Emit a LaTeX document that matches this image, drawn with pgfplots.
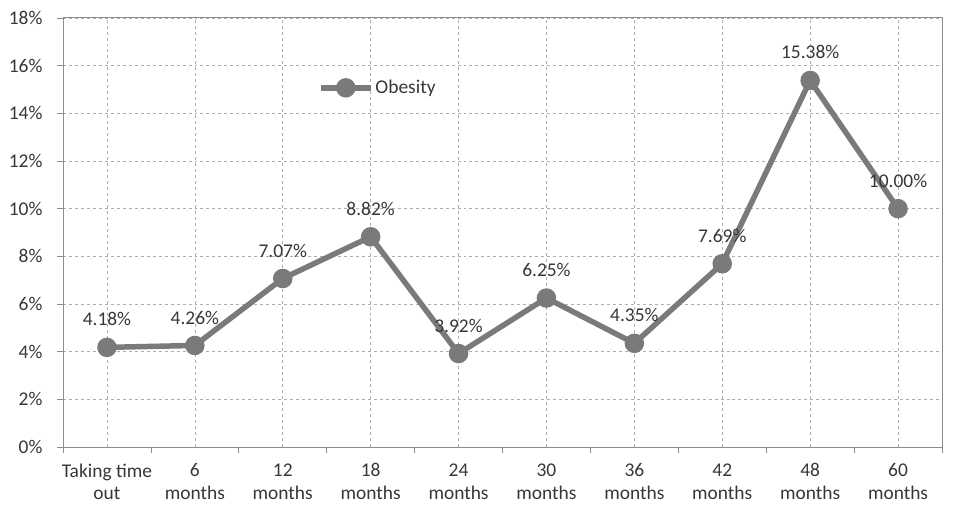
\documentclass[border=0pt]{standalone}
\usepackage{pgfplots}
\pgfplotsset{compat=1.18}
\usepackage{fontspec}
\setmainfont{Carlito}
\definecolor{linec}{RGB}{122,122,122}
\definecolor{gridc}{RGB}{175,175,175}
\definecolor{axc}{RGB}{140,140,140}
\definecolor{txtc}{RGB}{55,55,55}
\begin{document}
\begin{tikzpicture}
\begin{axis}[
  scale only axis,
  width=879bp, height=429bp,
  xmin=-0.5, xmax=9.5, ymin=0, ymax=18,
  xtick={0,...,9},
  xticklabels={{Taking time\\out},{6\\months},{12\\months},{18\\months},{24\\months},{30\\months},{36\\months},{42\\months},{48\\months},{60\\months}},
  xticklabel style={align=center, font=\fontsize{19.5}{23}\selectfont, text=txtc, yshift=-7bp},
  minor xtick={-0.5,0.5,...,9.5},
  ytick={0,2,...,18},
  yticklabel={\pgfmathprintnumber{\tick}\%},
  /pgf/number format/assume math mode=true,
  yticklabel style={font=\fontsize{19.5}{20}\selectfont, text=txtc, xshift=-11bp},
  major x tick style={draw=none},
  minor tick length=6bp,
  major tick length=6bp,
  tick align=outside,
  tick pos=left,
  every tick/.style={axc, line width=0.8pt},
  xmajorgrids, ymajorgrids,
  grid style={gridc, dashed, line width=0.6pt},
  axis line style={axc, line width=1pt},
  clip=false,
  legend style={at={(axis cs:2.40,15.07)}, anchor=west, draw=none, fill=none,
    font=\fontsize{19.5}{20}\selectfont, text=txtc, inner sep=0pt},
  legend image code/.code={
    \draw[linec, line width=5.5pt] (0cm,0cm) -- (1.76cm,0cm);
    \fill[linec] (0.88cm,0cm) circle (7pt);},
  nodes near coords={\pgfmathprintnumber[fixed,fixed zerofill,precision=2]{\pgfplotspointmeta}\%},
  point meta=y,
  nodes near coords style={font=\fontsize{19.5}{20}\selectfont, text=txtc, anchor=center, yshift=28bp},
]
\addplot[linec, line width=5.5pt, mark=*, mark size=7pt, mark options={fill=linec, draw=linec}]
coordinates {(0,4.18) (1,4.26) (2,7.07) (3,8.82) (4,3.92) (5,6.25) (6,4.35) (7,7.69) (8,15.38) (9,10.00)};
\addlegendentry{Obesity}
\end{axis}
\path[use as bounding box] (current axis.south west) ++(-63bp,-58bp) rectangle ++(953bp,505bp);
\end{tikzpicture}
\end{document}
